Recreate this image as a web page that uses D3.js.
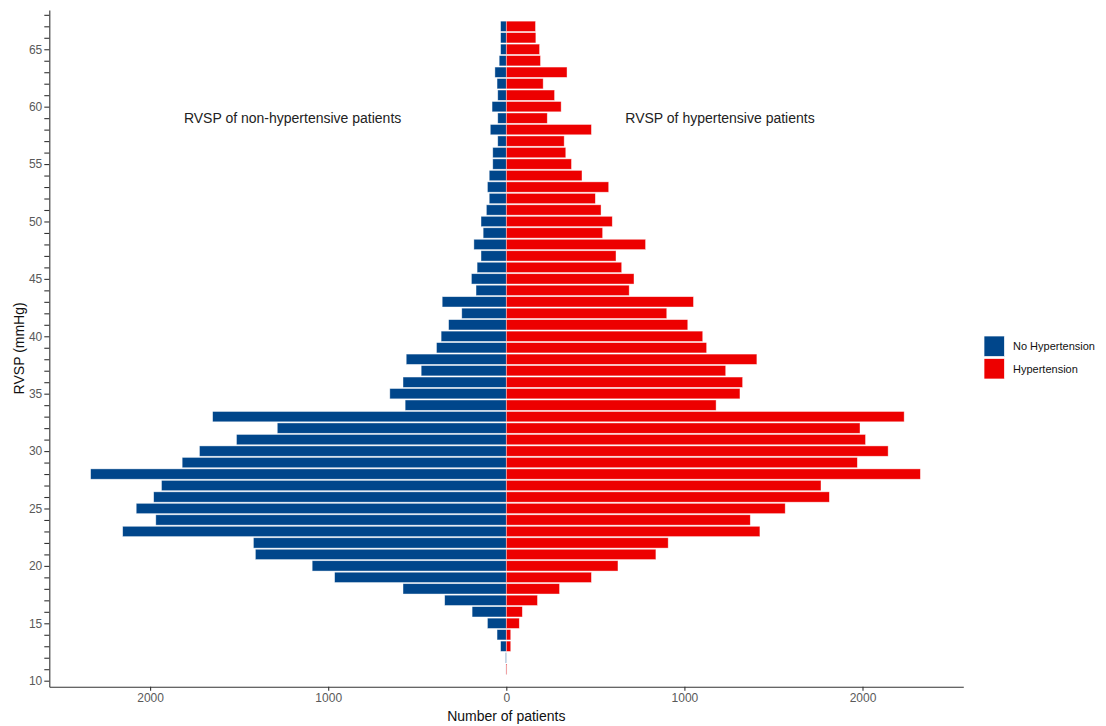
<!DOCTYPE html>
<html>
<head>
<meta charset="utf-8">
<script src="https://cdn.jsdelivr.net/npm/d3@7"></script>
<style>
  body { margin: 0; background: #fff; }
  text { font-family: "Liberation Sans", Arial, sans-serif; }
</style>
</head>
<body>
<div id="chart"></div>
<script>
// RVSP values (mmHg), bottom to top
var rvsp = [11, 12, 13, 14, 15, 16, 17, 18, 19, 20, 21, 22, 23, 24, 25, 26, 27, 28, 29, 30,
            31, 32, 33, 34, 35, 36, 37, 38, 39, 40, 41, 42, 43, 44, 45, 46, 47, 48, 49, 50,
            51, 52, 53, 54, 55, 56, 57, 58, 59, 60, 61, 62, 63, 64, 65, 66, 67];

// number of patients without hypertension (drawn to the left)
var noHypertension = [2, 4, 32, 52, 106, 192, 346, 580, 964, 1090, 1409, 1420, 2154, 1968, 2078, 1980, 1936, 2334, 1820, 1723,
                      1515, 1286, 1649, 568, 654, 580, 478, 562, 392, 366, 324, 250, 360, 170, 196, 164, 142, 182, 130, 142,
                      112, 96, 106, 96, 76, 76, 48, 90, 48, 80, 48, 52, 64, 40, 32, 32, 32];

// number of patients with hypertension (drawn to the right)
var hypertension = [4, 0, 25, 25, 73, 90, 175, 299, 478, 627, 840, 909, 1424, 1370, 1566, 1814, 1767, 2325, 1971, 2144,
                    2017, 1986, 2234, 1178, 1312, 1327, 1232, 1407, 1125, 1103, 1019, 901, 1051, 690, 717, 648, 616, 782, 541, 595,
                    532, 500, 575, 425, 366, 334, 325, 478, 230, 308, 271, 207, 341, 192, 187, 166, 164];

var groups = ["No Hypertension", "Hypertension"];
var colors = ["#00468B", "#ED0000"];
var xTicks = [-2000, -1000, 0, 1000, 2000];

var W = 1106, H = 726;
var margin = {left: 49.3, right: 963.3, top: 10, bottom: 686.7};

var svg = d3.select("#chart").append("svg")
  .attr("width", W)
  .attr("height", H);

var x = d3.scaleLinear()
  .domain([-2566, 2566])
  .range([margin.left, margin.right]);

var y = d3.scaleLinear()
  .domain([9.477, 68.42])
  .range([margin.bottom, margin.top]);

var rows = rvsp.map(function(v, i) {
  return {rvsp: v, no: noHypertension[i], yes: hypertension[i]};
});

// left bars (no hypertension)
svg.selectAll("rect.no")
  .data(rows)
  .enter()
  .append("rect")
    .attr("class", "no")
    .attr("x", function(d) { return x(-d.no); })
    .attr("width", function(d) { return x(0) - x(-d.no); })
    .attr("y", function(d) { return y(d.rvsp + 0.45); })
    .attr("height", function(d) { return y(d.rvsp - 0.45) - y(d.rvsp + 0.45); })
    .attr("fill", colors[0])
    .attr("stroke", "#fff")
    .attr("stroke-opacity", 0.6)
    .attr("stroke-width", 0.7);

// right bars (hypertension)
svg.selectAll("rect.yes")
  .data(rows.filter(function(d) { return d.yes > 0; }))
  .enter()
  .append("rect")
    .attr("class", "yes")
    .attr("x", x(0))
    .attr("width", function(d) { return x(d.yes) - x(0); })
    .attr("y", function(d) { return y(d.rvsp + 0.45); })
    .attr("height", function(d) { return y(d.rvsp - 0.45) - y(d.rvsp + 0.45); })
    .attr("fill", colors[1])
    .attr("stroke", "#fff")
    .attr("stroke-opacity", 0.6)
    .attr("stroke-width", 0.7);

// X axis
var xAxis = svg.append("g")
  .attr("transform", "translate(0," + margin.bottom + ")")
  .call(d3.axisBottom(x)
    .tickValues(xTicks)
    .tickFormat(function(d) { return Math.abs(d); })
    .tickSize(4)
    .tickSizeOuter(0));

// Y axis, a tick at every mmHg, labels every 5
var yAxis = svg.append("g")
  .attr("transform", "translate(" + margin.left + ",0)")
  .call(d3.axisLeft(y)
    .tickValues(d3.range(10, 69))
    .tickFormat(function(d) { return d % 5 === 0 ? d : ""; })
    .tickSize(5)
    .tickSizeOuter(0));

[xAxis, yAxis].forEach(function(g) {
  g.select(".domain").attr("stroke", "#333").attr("stroke-width", 1.1);
  g.selectAll(".tick line").attr("stroke", "#333").attr("stroke-width", 1.1);
  g.selectAll(".tick text")
    .attr("fill", "#595959")
    .style("font-size", "12px")
    .style("font-family", "'Liberation Sans', Arial, sans-serif");
});
xAxis.selectAll(".tick text").attr("y", 6).attr("dy", "0.8em");
yAxis.selectAll(".tick text").attr("x", -7);

// axis titles
svg.append("text")
  .attr("x", (margin.left + margin.right) / 2)
  .attr("y", 721)
  .attr("text-anchor", "middle")
  .style("font-size", "14px")
  .attr("fill", "#111")
  .text("Number of patients");

svg.append("text")
  .attr("transform", "translate(24," + (margin.top + margin.bottom) / 2 + ")rotate(-90)")
  .attr("text-anchor", "middle")
  .style("font-size", "14px")
  .attr("fill", "#111")
  .text("RVSP (mmHg)");

// annotations
svg.append("text")
  .attr("x", x(-1200))
  .attr("y", y(59))
  .attr("dy", "0.35em")
  .attr("text-anchor", "middle")
  .style("font-size", "14px")
  .attr("fill", "#222")
  .text("RVSP of non-hypertensive patients");

svg.append("text")
  .attr("x", x(1200))
  .attr("y", y(59))
  .attr("dy", "0.35em")
  .attr("text-anchor", "middle")
  .style("font-size", "14px")
  .attr("fill", "#222")
  .text("RVSP of hypertensive patients");

// legend
var legend = svg.append("g")
  .attr("transform", "translate(984,336)");

legend.selectAll("rect")
  .data(groups)
  .enter()
  .append("rect")
    .attr("x", 0)
    .attr("y", function(d, i) { return i * 22.5; })
    .attr("width", 20.5)
    .attr("height", 20.5)
    .attr("fill", function(d, i) { return colors[i]; })
    .attr("stroke", "#fff")
    .attr("stroke-width", 0.7);

legend.selectAll("text")
  .data(groups)
  .enter()
  .append("text")
    .attr("x", 29)
    .attr("y", function(d, i) { return i * 22.5 + 10.5; })
    .attr("dy", "0.35em")
    .style("font-size", "11px")
    .attr("fill", "#111")
    .text(function(d) { return d; });
</script>
</body>
</html>
